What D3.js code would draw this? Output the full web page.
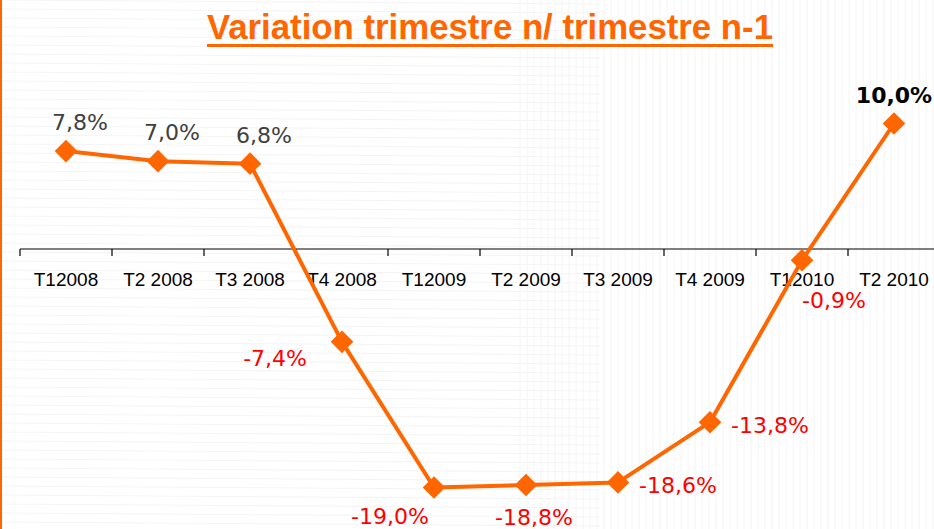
<!DOCTYPE html>
<meta charset="utf-8">
<style>
  body { margin: 0; background: #fff; }
  .cat { font-family: "Liberation Sans", Arial, sans-serif; font-size: 19px; fill: #000; }
  .lbl { font-family: "DejaVu Sans", Verdana, sans-serif; font-size: 22px; }
  .line { fill: none; stroke: #ff6600; stroke-width: 4; stroke-linejoin: round; }
</style>
<svg width="934" height="529"></svg>
<script src="https://cdnjs.cloudflare.com/ajax/libs/d3/7.8.5/d3.min.js"></script>
<script>

var categories = ["T12008", "T2 2008", "T3 2008", "T4 2008", "T12009",
                  "T2 2009", "T3 2009", "T4 2009", "T12010", "T2 2010"],
    values = [7.8, 7.0, 6.8, -7.4, -19.0, -18.8, -18.6, -13.8, -0.9, 10.0],
    labels = ["7,8%", "7,0%", "6,8%", "-7,4%", "-19,0%",
              "-18,8%", "-18,6%", "-13,8%", "-0,9%", "10,0%"],
    placement = ["above", "above", "above", "left", "belowLeft",
                 "below", "right", "right", "belowRight", "top"],
    title = "Variation trimestre n/ trimestre n-1";

var svg = d3.select("svg"),
    width = +svg.attr("width"),
    height = +svg.attr("height");

// faint background texture
var bg = svg.append("g").attr("stroke", "#f4f4f4").attr("stroke-width", 1);
d3.range(0, height, 9).forEach(function(y) {
  bg.append("line").attr("x1", 0).attr("x2", 600).attr("y1", y).attr("y2", y + 4);
});
d3.range(520, width, 7).forEach(function(x) {
  bg.append("line").attr("x1", x).attr("x2", x).attr("y1", 0).attr("y2", height);
});

// orange border on the left
svg.append("rect").attr("x", 0).attr("y", 0).attr("width", 2).attr("height", height).attr("fill", "#ff6600");

var x = d3.scaleBand().domain(categories).range([20, 940]);
var y = d3.scaleLinear().domain([-20, 10]).range([500, 123.5]);

// title
svg.append("text")
    .attr("x", 207).attr("y", 39)
    .attr("textLength", 566).attr("lengthAdjust", "spacingAndGlyphs")
    .attr("font-family", "'Liberation Sans Narrow', 'Liberation Sans', Arial, sans-serif")
    .attr("font-weight", "bold").attr("font-size", 35)
    .attr("fill", "#ff6600")
    .text(title);
svg.append("rect").attr("x", 207).attr("y", 44).attr("width", 566).attr("height", 3).attr("fill", "#ff6600");

// category axis (ticks between categories)
var axis = svg.append("g");
axis.append("line")
    .attr("x1", x.range()[0]).attr("x2", width)
    .attr("y1", y(0)).attr("y2", y(0))
    .attr("stroke", "#000").attr("stroke-width", 1.2);
axis.selectAll(".tick").data(categories).enter().append("line")
    .attr("x1", function(d) { return x(d); }).attr("x2", function(d) { return x(d); })
    .attr("y1", y(0)).attr("y2", y(0) + 7)
    .attr("stroke", "#000").attr("stroke-width", 1.2);
axis.selectAll(".cat").data(categories).enter().append("text")
    .attr("class", "cat")
    .attr("x", function(d) { return x(d) + x.bandwidth() / 2; })
    .attr("y", y(0) + 37)
    .attr("text-anchor", "middle")
    .text(function(d) { return d; });

var px = function(d, i) { return x(categories[i]) + x.bandwidth() / 2; },
    py = function(d) { return y(d); };

svg.append("path")
    .datum(values)
    .attr("class", "line")
    .attr("d", d3.line().x(px).y(py));

svg.selectAll(".pt").data(values).enter().append("path")
    .attr("d", d3.symbol().type(d3.symbolSquare).size(256))
    .attr("fill", "#ff6600")
    .attr("transform", function(d, i) { return "translate(" + px(d, i) + "," + py(d) + ") rotate(45)"; });

var offsets = {
  above: [14, -21, "middle"],
  top: [0, -21, "middle"],
  left: [-35, 24, "end"],
  belowLeft: [-44, 37, "middle"],
  below: [8, 40, "middle"],
  right: [21, 11, "start"],
  belowRight: [32, 48, "middle"]
};

svg.selectAll(".lbl").data(values).enter().append("text")
    .attr("class", "lbl")
    .attr("x", function(d, i) { return px(d, i) + offsets[placement[i]][0]; })
    .attr("y", function(d, i) { return py(d) + offsets[placement[i]][1]; })
    .attr("text-anchor", function(d, i) { return offsets[placement[i]][2]; })
    .attr("font-weight", function(d, i) { return placement[i] === "top" ? "bold" : null; })
    .attr("fill", function(d, i) { return placement[i] === "top" ? "#000" : d < 0 ? "#ff0000" : "#404040"; })
    .text(function(d, i) { return labels[i]; });

</script>
